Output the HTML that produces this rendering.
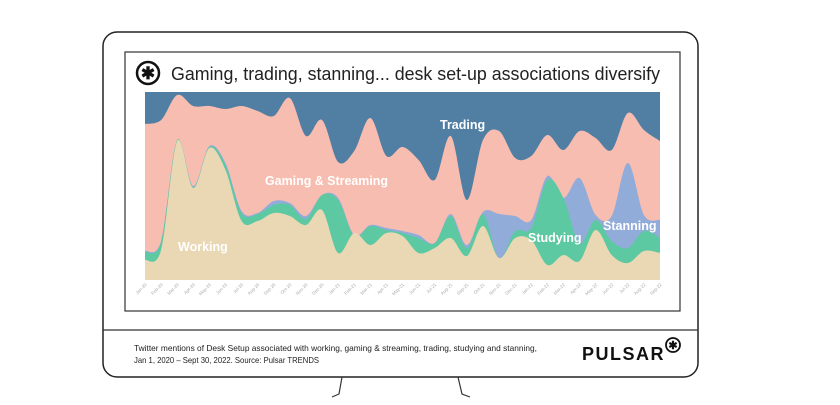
<!DOCTYPE html>
<html><head><meta charset="utf-8"><style>
body{margin:0;width:840px;height:400px;background:#fff;overflow:hidden;font-family:"Liberation Sans",sans-serif}
</style></head><body>
<svg id="s" width="840" height="400" xmlns="http://www.w3.org/2000/svg">
<rect x="103" y="32" width="595" height="345" rx="14" fill="#fff" stroke="#222" stroke-width="1.5"/>
<line x1="103" y1="330" x2="698" y2="330" stroke="#333" stroke-width="1.2"/>
<path d="M342 377 L339 394 L332 397 M458 377 L462 394 L470 397" fill="none" stroke="#333" stroke-width="1.2"/>
<rect x="125" y="52" width="555" height="259" fill="#fff" stroke="#333" stroke-width="1.2"/>
<circle cx="148" cy="73" r="11" fill="none" stroke="#111" stroke-width="2.5"/>
<text x="148" y="79" font-size="17" text-anchor="middle" font-weight="bold" fill="#111">✱</text>
<text x="171" y="80" font-size="18" fill="#222" textLength="489" lengthAdjust="spacingAndGlyphs">Gaming, trading, stanning... desk set-up associations diversify</text>
<rect x="145" y="92" width="515" height="188" fill="#517ea3"/>
<g id="areas"></g>
<g font-size="12.5" font-weight="bold" fill="#fff">
<text x="440" y="129">Trading</text>
<text x="265" y="185" textLength="123" lengthAdjust="spacingAndGlyphs">Gaming &amp; Streaming</text>
<text x="178" y="251">Working</text>
<text x="528" y="242">Studying</text>
<text x="603" y="230">Stanning</text>
</g>
<g id="ticks" font-size="4.5" fill="#aaa"></g>
<text x="134" y="351" font-size="8.5" fill="#222" textLength="403" lengthAdjust="spacingAndGlyphs">Twitter mentions of Desk Setup associated with working, gaming &amp; streaming, trading, studying and stanning,</text>
<text x="134" y="363" font-size="8.5" fill="#222" textLength="185" lengthAdjust="spacingAndGlyphs">Jan 1, 2020 – Sept 30, 2022. Source: Pulsar TRENDS</text>
<text x="582" y="360" font-size="18" font-weight="bold" fill="#111" letter-spacing="1.5">PULSAR</text>
<circle cx="673" cy="345" r="7" fill="none" stroke="#111" stroke-width="1.8"/>
<text x="673" y="349" font-size="11" text-anchor="middle" font-weight="bold" fill="#111">✱</text>
</svg>
<script>
var tr=[124,120,95,106,106,109,106,111,116,98,136,120,162,151,118,156,147,160,180,136,200,140,131,158,156,135,150,131,138,150,113,130,141];
var st=[251,241,140,186,146,163,211,213,201,203,216,195,198,235,225,228,231,235,243,214,245,212,214,216,220,176,198,178,215,216,163,215,220];
var gr=[252,242,140,187,147,165,213,214,205,205,219,195,200,236,226,230,233,238,243,216,248,214,258,231,228,180,198,243,220,241,248,231,238];
var wk=[260,250,141,188,148,170,221,221,213,216,225,210,253,233,245,233,236,253,248,238,256,226,258,238,240,265,255,261,230,255,263,251,253];
for(var i=0;i<33;i++){gr[i]=Math.max(gr[i],st[i]);}
function X(i){return 145+i*515/32;}
function curve(a){var p=a.map(function(y,i){return [X(i),y]});var d="M"+p[0][0]+" "+p[0][1];
for(var i=0;i<p.length-1;i++){var p0=p[Math.max(i-1,0)],p1=p[i],p2=p[i+1],p3=p[Math.min(i+2,p.length-1)];
var c1=[p1[0]+(p2[0]-p0[0])/6,p1[1]+(p2[1]-p0[1])/6],c2=[p2[0]-(p3[0]-p1[0])/6,p2[1]-(p3[1]-p1[1])/6];
d+=" C"+c1[0].toFixed(1)+" "+c1[1].toFixed(1)+" "+c2[0].toFixed(1)+" "+c2[1].toFixed(1)+" "+p2[0].toFixed(1)+" "+p2[1];}
return d;}
var g=document.getElementById("areas"),h="";
[[tr,"#f7bdb0"],[st,"#92acd9"],[gr,"#5cc9a2"],[wk,"#ead7b3"]].forEach(function(l){
h+='<path d="'+curve(l[0])+' L660 280 L145 280 Z" fill="'+l[1]+'"/>';});
g.innerHTML=h;
var m=["Jan","Feb","Mar","Apr","May","Jun","Jul","Aug","Sep","Oct","Nov","Dec"],t="";
for(var i=0;i<33;i++){var x=X(i);t+='<text transform="translate('+(x+2)+',285) rotate(-45)" text-anchor="end">'+m[i%12]+'-'+(20+Math.floor(i/12))+'</text>';}
document.getElementById("ticks").innerHTML=t;
</script>
</body></html>
